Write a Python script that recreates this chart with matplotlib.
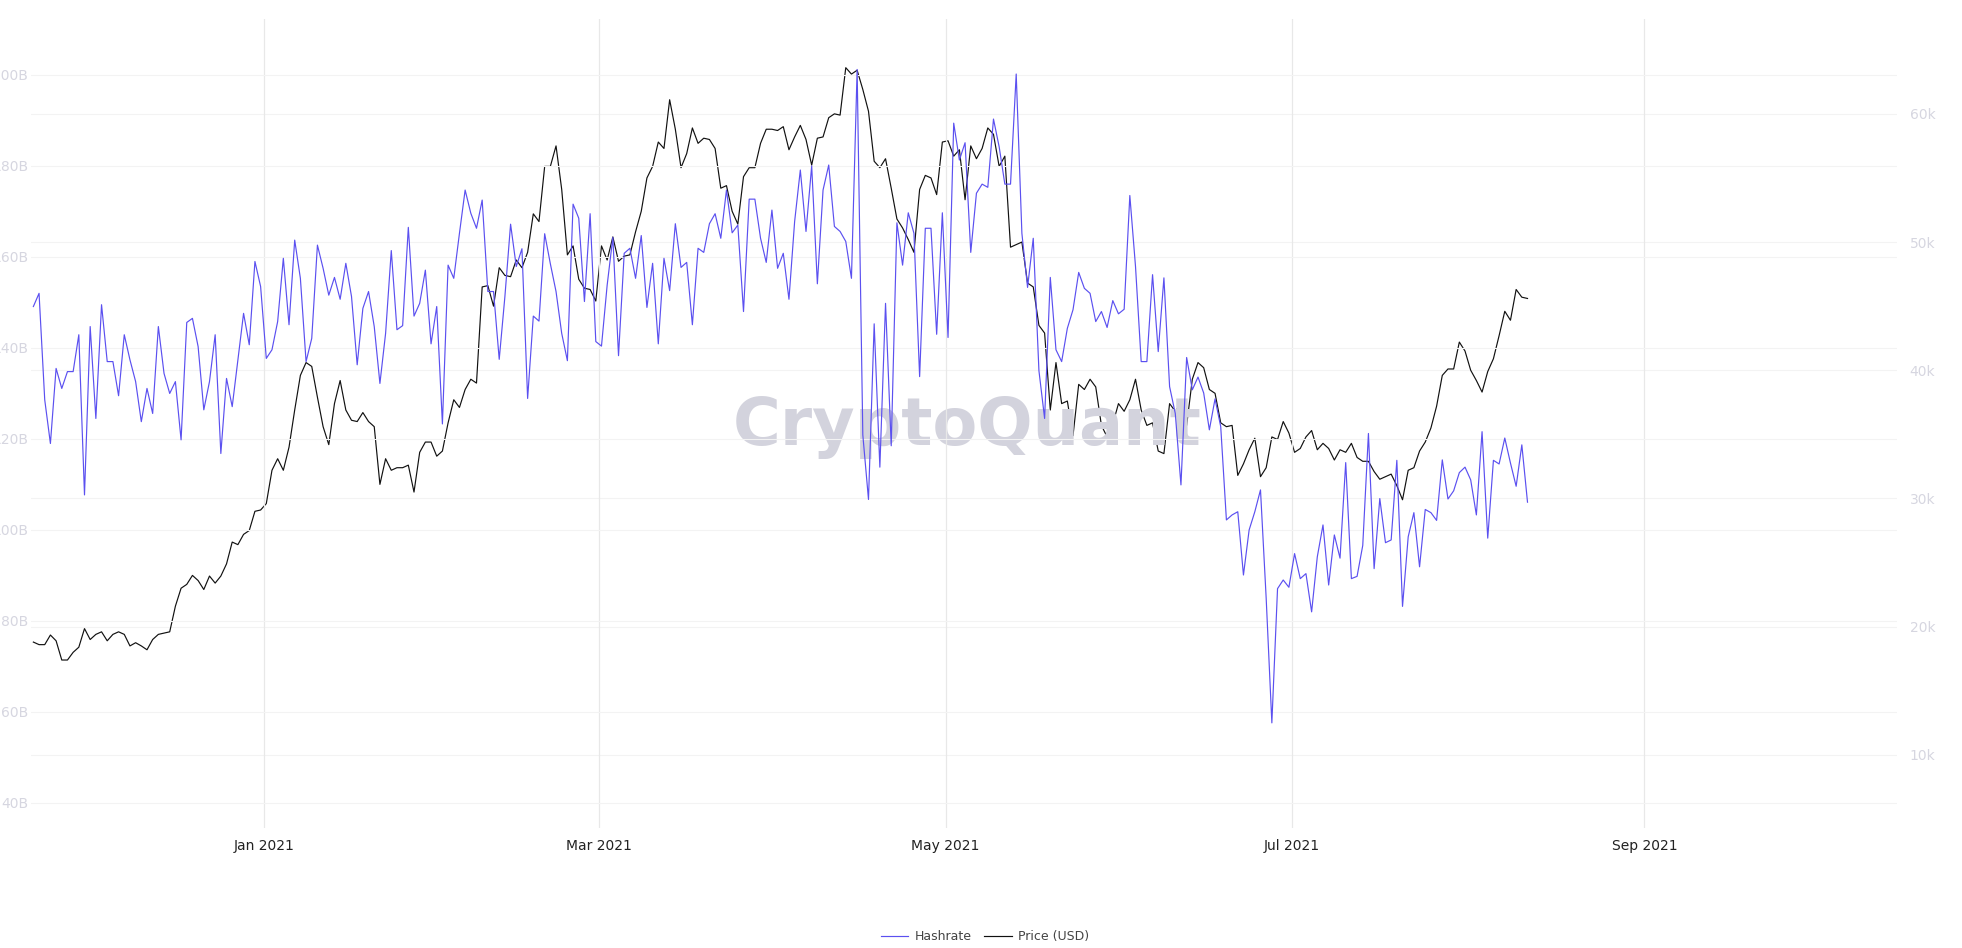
import matplotlib
matplotlib.use("Agg")
import matplotlib.pyplot as plt
import pandas as pd

start_date = "2020-11-21"

hashrate_eh = [
149.1,152.0,128.6,119.0,135.5,131.1,134.8,134.8,142.9,107.7,144.7,124.5,149.5,137.0,137.0,129.5,142.9,137.4,132.6,123.8,131.1,125.6,144.7,134.4,130.0,132.6,119.8,145.6,146.5,140.3,126.4,132.6,142.9,116.8,133.3,127.1,137.4,147.6,140.7,159.0,153.5,137.7,139.6,145.8,159.7,145.1,163.7,155.3,137.0,142.1,162.6,157.5,151.6,
155.5,150.7,158.6,151.3,136.3,148.7,152.4,144.7,132.2,143.2,161.4,144.0,144.9,166.5,147.0,149.8,157.1,140.9,149.1,123.3,158.2,155.3,165.2,174.7,169.6,166.3,172.5,152.4,152.4,137.5,151.3,167.2,157.9,161.8,128.9,147.0,145.9,165.1,158.5,152.4,143.2,137.2,171.6,168.5,150.2,169.5,141.4,140.4,153.8,164.3,138.3,160.8,161.9,
155.3,164.7,148.9,158.6,140.9,159.7,152.6,167.3,157.7,158.8,145.1,161.9,161.0,167.3,169.5,164.1,174.7,165.3,167.0,148.0,172.7,172.7,164.1,158.8,170.3,157.5,160.8,150.7,167.8,179.1,165.6,180.0,154.1,174.7,180.2,166.7,165.6,163.4,155.3,201.2,120.9,106.7,145.3,113.8,149.8,118.5,167.5,158.2,169.7,165.2,133.7,166.3,166.3,
143.0,169.7,142.3,189.4,181.3,185.1,161.0,174.0,176.0,175.3,190.3,184.2,176.0,176.0,200.2,165.2,153.3,164.1,135.0,124.5,155.5,139.6,137.0,144.3,148.4,156.6,153.1,152.0,145.8,148.0,144.5,150.4,147.5,148.5,173.5,157.9,137.0,137.0,156.1,139.2,155.4,131.5,125.6,109.9,137.9,130.8,133.6,130.1,122.0,128.8,122.7,102.2,103.3,
104.0,90.1,100.0,104.0,108.8,85.0,57.6,87.1,89.0,87.4,94.8,89.3,90.4,82.0,94.1,101.1,87.9,98.9,93.8,114.8,89.3,89.8,96.6,121.2,91.5,106.9,97.2,97.8,115.3,83.2,98.5,103.8,91.9,104.5,103.8,102.1,115.4,106.8,108.6,112.6,113.8,111.0,103.3,121.6,98.2,115.3,114.5,120.2,114.7,109.6,118.7,106.1,
]

price_k = [
18.8,18.6,18.6,19.35,18.9,17.4,17.4,18.0,18.4,19.85,19.0,19.4,19.6,18.9,19.4,19.6,19.4,18.5,18.75,18.5,18.2,19.0,19.4,19.5,19.6,21.6,23.0,23.3,24.0,23.6,22.9,23.95,23.4,23.95,24.9,26.6,26.4,27.2,27.5,29.0,29.1,29.6,
32.2,33.1,32.2,34.0,36.9,39.6,40.6,40.3,37.9,35.6,34.2,
37.4,39.2,36.9,36.1,36.0,36.7,36.0,35.6,31.1,33.1,32.2,32.4,32.4,32.6,30.5,33.6,34.4,34.4,33.3,33.7,35.9,37.7,37.1,38.5,39.3,39.0,46.5,46.6,45.0,48.0,47.4,47.3,48.6,48.0,49.2,52.2,51.6,55.9,55.9,57.5,54.1,49.0,49.7,47.1,46.4,46.3,45.4,49.7,48.6,50.4,48.5,48.9,49.0,
50.8,52.4,55.0,55.9,57.8,57.3,61.1,58.8,55.8,56.9,58.9,57.7,58.1,58.0,57.3,54.2,54.4,52.4,51.4,55.1,55.8,55.8,57.7,58.8,58.8,58.7,59.0,57.2,58.2,59.1,58.0,56.0,58.1,58.2,59.7,60.0,59.9,63.6,63.1,63.4,61.9,60.2,56.3,55.8,56.5,54.2,51.8,51.1,50.2,49.2,54.1,55.2,55.0,
53.7,57.8,57.9,56.7,57.2,53.3,57.5,56.5,57.3,58.9,58.4,55.9,56.7,49.6,49.8,50.0,46.8,46.5,43.5,42.9,36.9,40.6,37.4,37.6,34.9,38.9,38.5,39.3,38.7,35.7,34.8,35.8,37.4,36.8,37.7,39.3,36.9,35.7,35.9,33.7,33.5,37.4,36.8,37.4,35.7,39.3,40.6,40.2,38.5,38.2,35.9,35.6,35.7,
31.8,32.7,33.8,34.7,31.7,32.4,34.8,34.6,36.0,35.1,33.6,33.9,34.8,35.3,33.8,34.3,33.9,33.0,33.8,33.6,34.3,33.2,32.9,32.9,32.1,31.5,31.7,31.9,31.0,29.9,32.2,32.4,33.7,34.4,35.5,37.2,39.6,40.1,40.1,42.2,41.5,40.0,39.2,38.3,39.9,40.9,42.7,44.6,43.9,46.3,45.7,45.6,
]

hash_ticks = [40, 60, 80, 100, 120, 140, 160, 180, 200]
hash_tick_labels = ["40B", "60B", "80B", "100B", "120B", "140B", "160B", "180B", "200B"]
price_ticks = [10, 20, 30, 40, 50, 60]
price_tick_labels = ["10k", "20k", "30k", "40k", "50k", "60k"]
month_ticks = ["2021-01-01", "2021-03-01", "2021-05-01", "2021-07-01", "2021-09-01"]
month_labels = ["Jan 2021", "Mar 2021", "May 2021", "Jul 2021", "Sep 2021"]

n = min(len(hashrate_eh), len(price_k))
dates = pd.date_range(start_date, periods=n, freq="D") + pd.Timedelta(hours=10)

fig = plt.figure(figsize=(19.62, 9.48), dpi=100)
ax = fig.add_axes([0.0158, 0.1266, 0.9512, 0.8534])
ax2 = ax.twinx()

ax.set_zorder(2)
ax.patch.set_visible(False)

l1, = ax.plot(dates, hashrate_eh[:n], color="#5b50f0", lw=0.85, label="Hashrate")
l2, = ax2.plot(dates, price_k[:n], color="#111111", lw=0.85, label="Price (USD)")

ax.set_ylim(34.5, 212.3)
ax2.set_ylim(4.3, 67.4)
ax.set_xlim(pd.Timestamp("2020-11-21"), pd.Timestamp("2021-10-15 12:00"))

ax.set_yticks(hash_ticks)
ax.set_yticklabels(hash_tick_labels)
ax2.set_yticks(price_ticks)
ax2.set_yticklabels(price_tick_labels)
ax.set_xticks(pd.to_datetime(month_ticks))
ax.set_xticklabels(month_labels)

for a in (ax, ax2):
    for s in a.spines.values():
        s.set_visible(False)

ax.tick_params(axis="y", length=0, pad=2, labelsize=10, labelcolor="#d6d6e0")
ax2.tick_params(axis="y", length=0, pad=9, labelsize=10, labelcolor="#d6d6e0")
ax.tick_params(axis="x", length=0, pad=8, labelsize=10, labelcolor="#222222")

ax.grid(axis="y", color="#f3f3f3", lw=0.8)
ax2.grid(axis="y", color="#f3f3f3", lw=0.8)
ax.grid(axis="x", color="#e8e8e8", lw=0.9)
ax2.set_axisbelow(True)

fig.text(0.493, 0.55, "CryptoQuant", fontsize=47, fontweight="bold", color="#d3d3dd",
         ha="center", va="center", zorder=0, fontfamily="DejaVu Sans")

fig.legend(handles=[l1, l2], loc="center", bbox_to_anchor=(0.502, 0.012),
           ncol=2, frameon=False, fontsize=9, labelcolor="#444444",
           handlelength=2.2, columnspacing=1.0, handletextpad=0.5)

fig.savefig("out.png", dpi=100)
